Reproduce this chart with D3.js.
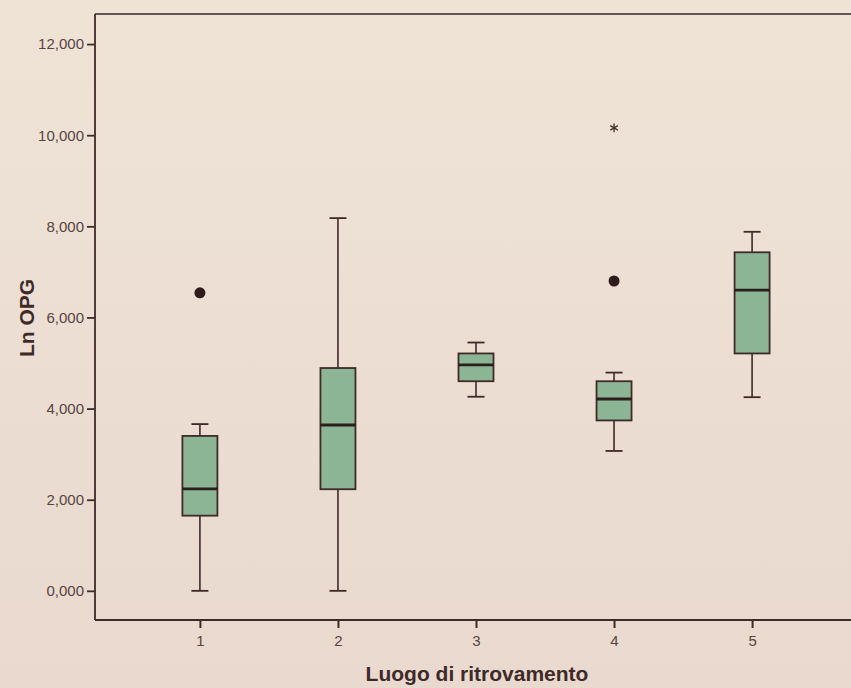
<!DOCTYPE html>
<html>
<head>
<meta charset="utf-8">
<script src="https://cdn.jsdelivr.net/npm/d3@7"></script>
<style>
  html, body { margin: 0; padding: 0; background: #ecdfd5; }
  svg { display: block; }
</style>
</head>
<body>
<svg id="chart" width="851" height="688"></svg>
<script>
// ---- data ----
const categories  = ["1", "2", "3", "4", "5"];
const whiskerLow  = [0.00, 0.00, 4.26, 3.07, 4.25];
const q1          = [1.65, 2.23, 4.60, 3.74, 5.21];
const median      = [2.24, 3.64, 4.96, 4.21, 6.60];
const q3          = [3.40, 4.89, 5.21, 4.60, 7.43];
const whiskerHigh = [3.66, 8.18, 5.45, 4.79, 7.88];
const outlierCats   = ["1", "4", "4"];
const outlierValues = [6.54, 6.80, 10.16];
const outlierKinds  = ["circle", "circle", "star"];
const yTicks = [0, 2, 4, 6, 8, 10, 12];
const xTitle = "Luogo di ritrovamento";
const yTitle = "Ln OPG";

// ---- layout ----
const W = 851, H = 688;
const pLeft = 95, pRight = 857, pTop = 14, pBottom = 620;
const ink = "#3f2a29";
const tickInk = "#574442";
const fontFam = "'Liberation Sans', Arial, sans-serif";

const svg = d3.select("#chart");

// background gradient (photo-like)
const defs = svg.append("defs");
const grad = defs.append("linearGradient").attr("id", "bg").attr("x1", 0).attr("y1", 0).attr("x2", 0).attr("y2", 1);
grad.append("stop").attr("offset", "0%").attr("stop-color", "#efe3d6");
grad.append("stop").attr("offset", "100%").attr("stop-color", "#e9d9cf");
svg.append("rect").attr("width", W).attr("height", H).attr("fill", "url(#bg)");

const x = d3.scalePoint().domain(categories).range([pLeft, pRight]).padding(0.76);
const y = d3.scaleLinear().domain([-0.64, 12.66]).range([pBottom, pTop]);

const it = d3.formatLocale({decimal: ",", thousands: ".", grouping: [3], currency: ["€", ""]});
const fmt = it.format(".3f");

// frame: top line
svg.append("line").attr("x1", pLeft).attr("x2", pRight).attr("y1", pTop).attr("y2", pTop)
  .attr("stroke", "#625452").attr("stroke-width", 2);

// y axis
const yAxis = d3.axisLeft(y).tickValues(yTicks).tickFormat(fmt).tickSize(8).tickPadding(3);
const gy = svg.append("g").attr("transform", `translate(${pLeft},0)`).call(yAxis);
gy.select(".domain").attr("stroke", ink).attr("stroke-width", 1.8).attr("d", `M0,${pTop}V${pBottom}`);
gy.selectAll(".tick line").attr("stroke", ink).attr("stroke-width", 1.8);
gy.selectAll(".tick text").attr("fill", tickInk).attr("font-family", fontFam)
  .attr("font-size", 15);

// x axis
const xAxis = d3.axisBottom(x).tickSize(8).tickPadding(7);
const gx = svg.append("g").attr("transform", `translate(0,${pBottom})`).call(xAxis);
gx.select(".domain").attr("stroke", ink).attr("stroke-width", 1.8).attr("d", `M${pLeft},0H${pRight}`);
gx.selectAll(".tick line").attr("stroke", ink).attr("stroke-width", 2);
gx.selectAll(".tick text").attr("fill", tickInk).attr("font-family", fontFam)
  .attr("font-size", 15);

// titles
svg.append("text").attr("x", 477).attr("y", 681).attr("text-anchor", "middle")
  .attr("font-family", fontFam).attr("font-weight", "bold")
  .attr("font-size", 21).attr("fill", ink).text(xTitle);
svg.append("text").attr("transform", "translate(34,318) rotate(-90)").attr("text-anchor", "middle")
  .attr("font-family", fontFam).attr("font-weight", "bold")
  .attr("font-size", 21).attr("fill", ink).text(yTitle);

// boxes
const boxW = 35, capW = 17;
const rows = categories.map((c, i) => ({c, lo: whiskerLow[i], q1: q1[i], med: median[i], q3: q3[i], hi: whiskerHigh[i]}));
const g = svg.append("g").selectAll("g").data(rows).join("g");

g.append("line").attr("x1", d => x(d.c)).attr("x2", d => x(d.c))
  .attr("y1", d => y(d.hi)).attr("y2", d => y(d.q3)).attr("stroke", ink).attr("stroke-width", 1.6);
g.append("line").attr("x1", d => x(d.c)).attr("x2", d => x(d.c))
  .attr("y1", d => y(d.q1)).attr("y2", d => y(d.lo)).attr("stroke", ink).attr("stroke-width", 1.6);
g.append("line").attr("x1", d => x(d.c) - capW / 2).attr("x2", d => x(d.c) + capW / 2)
  .attr("y1", d => y(d.hi)).attr("y2", d => y(d.hi)).attr("stroke", ink).attr("stroke-width", 1.8);
g.append("line").attr("x1", d => x(d.c) - capW / 2).attr("x2", d => x(d.c) + capW / 2)
  .attr("y1", d => y(d.lo)).attr("y2", d => y(d.lo)).attr("stroke", ink).attr("stroke-width", 1.8);
g.append("rect").attr("x", d => x(d.c) - boxW / 2).attr("width", boxW)
  .attr("y", d => y(d.q3)).attr("height", d => y(d.q1) - y(d.q3))
  .attr("fill", "#8cb596").attr("stroke", ink).attr("stroke-width", 1.8);
g.append("line").attr("x1", d => x(d.c) - boxW / 2).attr("x2", d => x(d.c) + boxW / 2)
  .attr("y1", d => y(d.med)).attr("y2", d => y(d.med)).attr("stroke", "#2b1e1d").attr("stroke-width", 2.8);

// outliers
const outs = outlierCats.map((c, i) => ({c, v: outlierValues[i], k: outlierKinds[i]}));
svg.append("g").selectAll("circle").data(outs.filter(d => d.k === "circle")).join("circle")
  .attr("cx", d => x(d.c)).attr("cy", d => y(d.v)).attr("r", 5.5).attr("fill", "#2e1c1b");
svg.append("g").selectAll("path").data(outs.filter(d => d.k === "star")).join("path")
  .attr("transform", d => `translate(${x(d.c)},${y(d.v)})`)
  .attr("d", d3.symbol(d3.symbolAsterisk, 55))
  .attr("fill", "none").attr("stroke", "#4a3534").attr("stroke-width", 1.4);
</script>
</body>
</html>
